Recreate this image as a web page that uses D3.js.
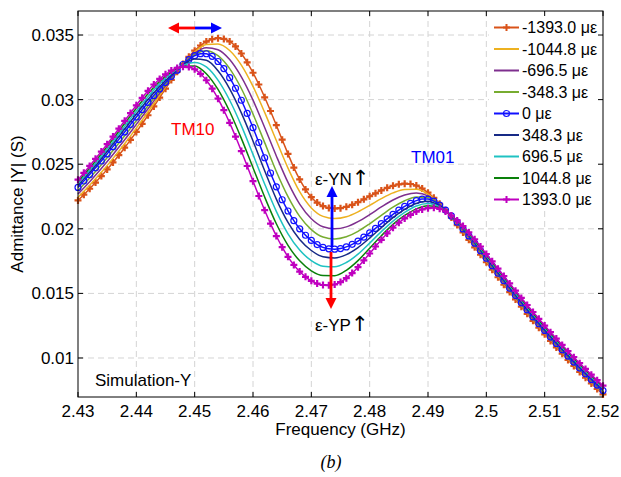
<!DOCTYPE html>
<head>
    <meta charset="utf-8">
    <script src="https://d3js.org/d3.v7.js"></script>
    <style>
        body { margin: 0; background: #fff; }
        text { font-family: "Liberation Sans", Arial, sans-serif; }
    </style>
</head>
<body>
    <svg id="chart" width="621" height="477"></svg>
    <script>
        // frequency grid: markered curves every 1 MHz, the others every 2 MHz
        const fStart = 2.43;
        const stepFine = 0.001;
        const stepCoarse = 0.002;

        const xTicks = [2.43, 2.44, 2.45, 2.46, 2.47, 2.48, 2.49, 2.5, 2.51, 2.52];
        const yTicks = [0.01, 0.015, 0.02, 0.025, 0.03, 0.035];

        const labels = ["-1393.0 με", "-1044.8 με", "-696.5 με", "-348.3 με", "0 με",
                        "348.3 με", "696.5 με", "1044.8 με", "1393.0 με"];

        // -1393.0 με (fine grid)
        const yNeg1393 = [0.02220,0.02264,0.02310,0.02358,0.02408,0.02460,0.02514,0.02570,0.02628,0.02688,
            0.02750,0.02813,0.02879,0.02947,0.03016,0.03085,0.03152,0.03216,0.03276,0.03331,
            0.03379,0.03419,0.03449,0.03468,0.03476,0.03470,0.03450,0.03412,0.03357,0.03289,
            0.03208,0.03117,0.03018,0.02912,0.02802,0.02690,0.02580,0.02474,0.02382,0.02305,
            0.02245,0.02203,0.02176,0.02162,0.02158,0.02160,0.02170,0.02186,0.02206,0.02228,
            0.02252,0.02275,0.02297,0.02317,0.02333,0.02344,0.02349,0.02347,0.02335,0.02312,
            0.02280,0.02240,0.02194,0.02144,0.02087,0.02029,0.01972,0.01915,0.01857,0.01799,
            0.01741,0.01683,0.01625,0.01567,0.01510,0.01453,0.01397,0.01342,0.01288,0.01235,
            0.01183,0.01132,0.01082,0.01033,0.00985,0.00938,0.00892,0.00847,0.00803,0.00760,
            0.00718];
        // -1044.8 με (coarse grid)
        const yNeg1044 = [0.02245,0.02338,0.02437,0.02545,0.02659,0.02779,0.02904,0.03033,0.03159,0.03275,
            0.03369,0.03426,0.03431,0.03380,0.03267,0.03102,0.02901,0.02683,0.02470,0.02287,
            0.02161,0.02096,0.02079,0.02093,0.02131,0.02181,0.02233,0.02278,0.02305,0.02306,
            0.02268,0.02192,0.02089,0.01979,0.01865,0.01749,0.01633,0.01518,0.01405,0.01296,
            0.01191,0.01090,0.00993,0.00900,0.00811,0.00726];
        const yNeg696 = [0.02270,0.02365,0.02467,0.02575,0.02689,0.02808,0.02929,0.03050,0.03166,0.03274,
            0.03360,0.03402,0.03386,0.03310,0.03176,0.02996,0.02784,0.02564,0.02359,0.02191,
            0.02078,0.02016,0.02000,0.02015,0.02056,0.02110,0.02169,0.02223,0.02261,0.02277,
            0.02255,0.02189,0.02093,0.01986,0.01873,0.01757,0.01641,0.01525,0.01412,0.01303,
            0.01198,0.01097,0.01000,0.00907,0.00818,0.00733];
        const yNeg348 = [0.02295,0.02393,0.02496,0.02606,0.02720,0.02836,0.02953,0.03066,0.03173,0.03273,
            0.03350,0.03379,0.03340,0.03240,0.03086,0.02889,0.02667,0.02444,0.02249,0.02096,
            0.01994,0.01936,0.01921,0.01938,0.01980,0.02039,0.02104,0.02167,0.02217,0.02247,
            0.02243,0.02187,0.02096,0.01992,0.01881,0.01764,0.01648,0.01533,0.01420,0.01311,
            0.01206,0.01105,0.01008,0.00915,0.00826,0.00741];
        // 0 με (fine grid)
        const yZero = [0.02320,0.02370,0.02420,0.02472,0.02525,0.02580,0.02636,0.02692,0.02750,0.02808,
            0.02865,0.02922,0.02978,0.03032,0.03083,0.03132,0.03180,0.03228,0.03272,0.03310,
            0.03340,0.03356,0.03355,0.03335,0.03295,0.03240,0.03170,0.03088,0.02995,0.02893,
            0.02783,0.02668,0.02550,0.02432,0.02325,0.02225,0.02138,0.02063,0.02000,0.01950,
            0.01910,0.01878,0.01856,0.01845,0.01842,0.01847,0.01860,0.01880,0.01905,0.01935,
            0.01968,0.02003,0.02040,0.02077,0.02112,0.02145,0.02173,0.02197,0.02218,0.02230,
            0.02230,0.02214,0.02184,0.02145,0.02100,0.02051,0.01999,0.01945,0.01889,0.01831,
            0.01772,0.01714,0.01656,0.01598,0.01540,0.01483,0.01427,0.01372,0.01318,0.01265,
            0.01213,0.01162,0.01112,0.01063,0.01015,0.00968,0.00922,0.00877,0.00833,0.00790,
            0.00748];
        const yPos348 = [0.02335,0.02437,0.02543,0.02656,0.02772,0.02888,0.03001,0.03102,0.03191,0.03268,
            0.03314,0.03304,0.03223,0.03083,0.02897,0.02680,0.02449,0.02230,0.02049,0.01917,
            0.01832,0.01783,0.01774,0.01800,0.01855,0.01928,0.02009,0.02086,0.02150,0.02197,
            0.02213,0.02177,0.02101,0.02005,0.01897,0.01780,0.01665,0.01549,0.01437,0.01328,
            0.01223,0.01122,0.01025,0.00932,0.00843,0.00758];
        const yPos696 = [0.02350,0.02454,0.02562,0.02675,0.02793,0.02911,0.03023,0.03122,0.03203,0.03264,
            0.03288,0.03253,0.03151,0.02995,0.02799,0.02576,0.02347,0.02135,0.01961,0.01835,
            0.01754,0.01711,0.01706,0.01739,0.01804,0.01889,0.01978,0.02060,0.02127,0.02176,
            0.02195,0.02170,0.02102,0.02010,0.01904,0.01789,0.01674,0.01559,0.01446,0.01337,
            0.01232,0.01131,0.01034,0.00941,0.00852,0.00767];
        const yPos1044 = [0.02365,0.02470,0.02580,0.02695,0.02815,0.02933,0.03046,0.03141,0.03214,0.03259,
            0.03261,0.03201,0.03079,0.02908,0.02700,0.02473,0.02246,0.02039,0.01872,0.01752,
            0.01675,0.01638,0.01637,0.01679,0.01754,0.01849,0.01946,0.02034,0.02103,0.02154,
            0.02178,0.02162,0.02102,0.02016,0.01912,0.01797,0.01682,0.01568,0.01456,0.01347,
            0.01242,0.01141,0.01044,0.00951,0.00862,0.00777];
        // 1393.0 με (fine grid)
        const yPos1393 = [0.02380,0.02433,0.02487,0.02542,0.02598,0.02655,0.02714,0.02775,0.02836,0.02896,
            0.02956,0.03014,0.03068,0.03117,0.03160,0.03196,0.03225,0.03245,0.03255,0.03252,
            0.03235,0.03200,0.03150,0.03085,0.03007,0.02918,0.02820,0.02714,0.02602,0.02486,
            0.02369,0.02254,0.02144,0.02040,0.01944,0.01858,0.01783,0.01720,0.01669,0.01628,
            0.01597,0.01576,0.01565,0.01563,0.01569,0.01588,0.01618,0.01657,0.01703,0.01755,
            0.01809,0.01863,0.01915,0.01964,0.02008,0.02047,0.02080,0.02108,0.02133,0.02150,
            0.02160,0.02163,0.02155,0.02134,0.02103,0.02065,0.02021,0.01972,0.01919,0.01863,
            0.01805,0.01748,0.01691,0.01634,0.01577,0.01521,0.01465,0.01410,0.01356,0.01303,
            0.01251,0.01200,0.01150,0.01101,0.01053,0.01006,0.00960,0.00915,0.00871,0.00828,
            0.00786];

        const series = [
            { name: labels[0], values: yNeg1393, step: stepFine,   color: "#D95319", marker: "plus" },
            { name: labels[1], values: yNeg1044, step: stepCoarse, color: "#EDB120", marker: null },
            { name: labels[2], values: yNeg696,  step: stepCoarse, color: "#7E2F8E", marker: null },
            { name: labels[3], values: yNeg348,  step: stepCoarse, color: "#77AC30", marker: null },
            { name: labels[4], values: yZero,    step: stepFine,   color: "#1010FF", marker: "circle" },
            { name: labels[5], values: yPos348,  step: stepCoarse, color: "#172A86", marker: null },
            { name: labels[6], values: yPos696,  step: stepCoarse, color: "#1FC2C2", marker: null },
            { name: labels[7], values: yPos1044, step: stepCoarse, color: "#0A800A", marker: null },
            { name: labels[8], values: yPos1393, step: stepFine,   color: "#BF00BF", marker: "plus" }
        ];

        const svg = d3.select("#chart");
        const mLeft = 78, mRight = 603, mTop = 11, mBottom = 397;

        const x = d3.scaleLinear().domain([2.43, 2.52]).range([mLeft, mRight]);
        const y = d3.scaleLinear().domain([0.00698, 0.03686]).range([mBottom, mTop]);

        svg.append("rect").attr("width", 621).attr("height", 477).attr("fill", "#fff");

        // dashed grid
        const grid = svg.append("g").attr("stroke", "#d4d4d4").attr("stroke-dasharray", "6,4");
        grid.selectAll(".gx").data(xTicks.slice(1, -1)).join("line")
            .attr("x1", d => x(d)).attr("x2", d => x(d)).attr("y1", mTop).attr("y2", mBottom);
        grid.selectAll(".gy").data(yTicks).join("line")
            .attr("x1", mLeft).attr("x2", mRight).attr("y1", d => y(d)).attr("y2", d => y(d));

        // curves
        const line = d3.line()
            .x(d => x(d[0]))
            .y(d => y(d[1]))
            .curve(d3.curveMonotoneX);

        const plus = "M-3.5,0H3.5M0,-3.5V3.5";

        series.forEach(s => {
            const pts = s.values.map((v, i) => [fStart + i * s.step, v]);
            svg.append("path")
                .datum(pts)
                .attr("fill", "none")
                .attr("stroke", s.color)
                .attr("stroke-width", 1.5)
                .attr("d", line);
            if (s.marker === "plus") {
                svg.append("g").selectAll("path").data(pts).join("path")
                    .attr("transform", d => `translate(${x(d[0])},${y(d[1])})`)
                    .attr("d", plus)
                    .attr("stroke", s.color)
                    .attr("stroke-width", 2.2);
            } else if (s.marker === "circle") {
                svg.append("g").selectAll("circle").data(pts).join("circle")
                    .attr("cx", d => x(d[0])).attr("cy", d => y(d[1]))
                    .attr("r", 3)
                    .attr("fill", "none")
                    .attr("stroke", s.color)
                    .attr("stroke-width", 1.2);
            }
        });

        // legend (white box, no border)
        const lg = svg.append("g");
        lg.append("rect").attr("x", 489).attr("y", 12).attr("width", 113).attr("height", 199).attr("fill", "#fff");
        series.forEach((s, i) => {
            const ly = 27.5 + i * 21.5;
            lg.append("line").attr("x1", 494).attr("x2", 519).attr("y1", ly).attr("y2", ly)
                .attr("stroke", s.color).attr("stroke-width", 2);
            if (s.marker === "plus") {
                lg.append("path").attr("transform", `translate(506.5,${ly})`).attr("d", plus)
                    .attr("stroke", s.color).attr("stroke-width", 2);
            } else if (s.marker === "circle") {
                lg.append("circle").attr("cx", 506.5).attr("cy", ly).attr("r", 3)
                    .attr("fill", "none").attr("stroke", s.color).attr("stroke-width", 1.2);
            }
            lg.append("text").attr("x", 522).attr("y", ly + 5.5)
                .attr("font-size", 16).attr("fill", "#000").text(s.name);
        });

        // frame and inward ticks
        svg.append("rect").attr("x", mLeft).attr("y", mTop).attr("width", mRight - mLeft).attr("height", mBottom - mTop)
            .attr("fill", "none").attr("stroke", "#000").attr("stroke-width", 1);
        const tk = svg.append("g").attr("stroke", "#000");
        xTicks.forEach(t => {
            tk.append("line").attr("x1", x(t)).attr("x2", x(t)).attr("y1", mBottom).attr("y2", mBottom - 5);
            tk.append("line").attr("x1", x(t)).attr("x2", x(t)).attr("y1", mTop).attr("y2", mTop + 5);
        });
        yTicks.forEach(t => {
            tk.append("line").attr("x1", mLeft).attr("x2", mLeft + 5).attr("y1", y(t)).attr("y2", y(t));
            tk.append("line").attr("x1", mRight).attr("x2", mRight - 5).attr("y1", y(t)).attr("y2", y(t));
        });

        // tick labels
        svg.append("g").selectAll("text").data(xTicks).join("text")
            .attr("x", d => x(d)).attr("y", 417)
            .attr("text-anchor", "middle").attr("font-size", 17)
            .text(d => d3.format("~g")(d));
        svg.append("g").selectAll("text").data(yTicks).join("text")
            .attr("x", 74).attr("y", d => y(d) + 6)
            .attr("text-anchor", "end").attr("font-size", 17)
            .text(d => d3.format("~g")(d));

        // axis titles
        svg.append("text").attr("x", (mLeft + mRight) / 2).attr("y", 435)
            .attr("text-anchor", "middle").attr("font-size", 17).text("Frequency (GHz)");
        svg.append("text").attr("transform", `translate(23,${(mTop + mBottom) / 2}) rotate(-90)`)
            .attr("text-anchor", "middle").attr("font-size", 17).text("Admittance |Y| (S)");
        svg.append("text").attr("x", 331).attr("y", 468)
            .attr("text-anchor", "middle").attr("font-size", 18)
            .style("font-family", "'Liberation Serif', 'Times New Roman', serif")
            .style("font-style", "italic").text("(b)");

        // annotations
        svg.append("text").attr("x", 95).attr("y", 386).attr("font-size", 17).text("Simulation-Y");
        svg.append("text").attr("x", 171).attr("y", 135).attr("font-size", 17).attr("fill", "#FF0000").text("TM10");
        svg.append("text").attr("x", 411).attr("y", 163).attr("font-size", 17).attr("fill", "#0000FF").text("TM01");
        ["ε-YN", "ε-YP"].forEach((t, i) => {
            const tx = svg.append("text").attr("x", 315).attr("y", i ? 331 : 185).attr("font-size", 17);
            tx.append("tspan").text(t);
            tx.append("tspan").attr("font-size", 21).attr("font-family", "'DejaVu Sans', sans-serif").text("↑");
        });

        function arrow(x1, y1, x2, y2, color) {
            const a = Math.atan2(y2 - y1, x2 - x1);
            const hl = 11, hw = 5.5;
            const bx = x2 - hl * Math.cos(a), by = y2 - hl * Math.sin(a);
            svg.append("line").attr("x1", x1).attr("y1", y1).attr("x2", bx).attr("y2", by)
                .attr("stroke", color).attr("stroke-width", 2.8);
            svg.append("path")
                .attr("d", `M${x2},${y2}L${bx - hw * Math.sin(a)},${by + hw * Math.cos(a)}L${bx + hw * Math.sin(a)},${by - hw * Math.cos(a)}Z`)
                .attr("fill", color);
        }
        arrow(332, 247, 332, 186, "#0000FF");
        arrow(331, 252, 331, 309, "#FF0000");
        arrow(195, 28, 168, 28, "#FF0000");
        arrow(195, 28, 222, 28, "#0000FF");
    </script>
</body>
